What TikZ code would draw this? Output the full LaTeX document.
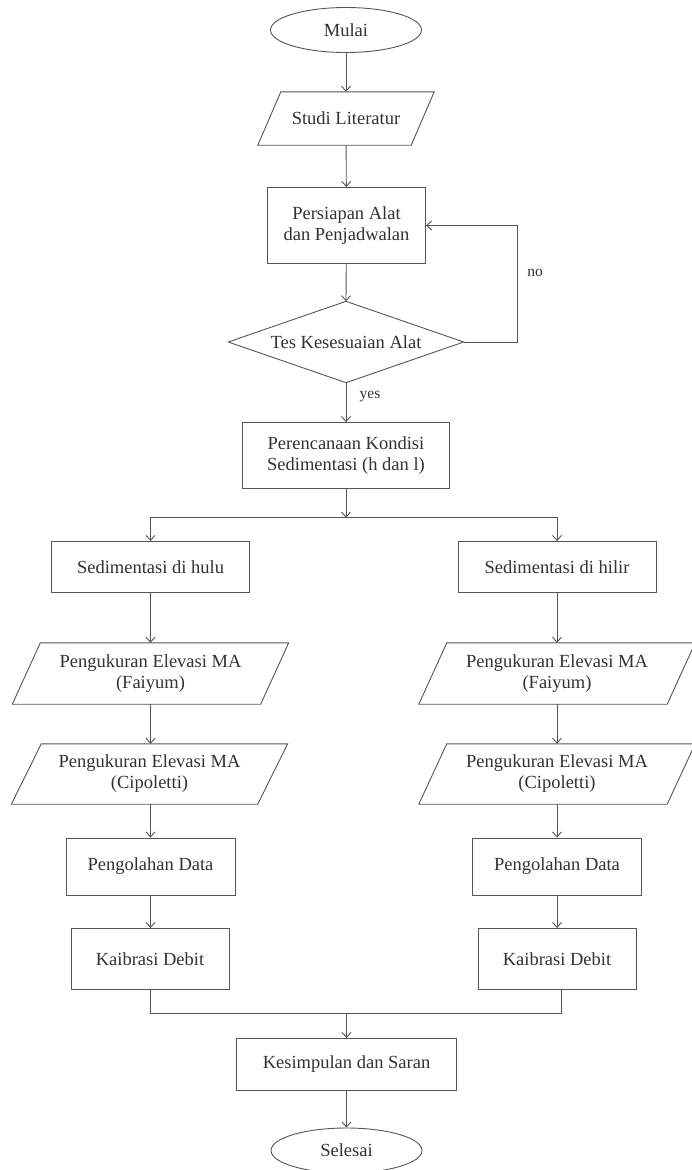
\documentclass[tikz,border=0pt]{standalone}
\usepackage{fontspec}
\setmainfont{Liberation Serif}
\usetikzlibrary{arrows.meta,shapes.geometric}
\definecolor{lncol}{RGB}{85,85,85}
\definecolor{txcol}{RGB}{50,50,50}
\begin{document}
\begin{tikzpicture}[x=1pt,y=-1pt,
  base/.style={font=\fontsize{18.5}{21}\selectfont, text=txcol, align=center, inner sep=0pt},
  box/.style={base, draw=lncol, line width=0.9pt, rectangle},
  ghost/.style={base, rectangle},
  oval/.style={base, draw=lncol, line width=0.9pt, ellipse, minimum width=151pt, minimum height=45pt},
  wire/.style={draw=lncol, line width=0.9pt},
  arr/.style={wire, -{Straight Barb[length=5pt,width=9pt]}},
  lbl/.style={font=\fontsize{15.5}{18}\selectfont, text=txcol, inner sep=0pt}]
\useasboundingbox (0,0) rectangle (691,1170);
% nodes
\node[oval] (mulai) at (346,30) {Mulai};
\node[ghost, minimum width=153pt, minimum height=53pt] (studi) at (346,118.5) {Studi Literatur};
\node[box, minimum width=158pt, minimum height=76pt] (prep) at (346.5,225.5) {Persiapan Alat\\dan Penjadwalan};
\node[ghost, minimum width=235pt, minimum height=81pt] (tes) at (346,342) {Tes Kesesuaian Alat};
\node[box, minimum width=207pt, minimum height=66pt] (plan) at (346,455.5) {Perencanaan Kondisi\\Sedimentasi (h dan l)};
\node[box, minimum width=198pt, minimum height=51pt] (hulu) at (150.5,567) {Sedimentasi di hulu};
\node[box, minimum width=198pt, minimum height=51pt] (hilir) at (557,567) {Sedimentasi di hilir};
\node[ghost, minimum width=248pt, minimum height=61pt] (fl) at (150.5,673.5) {Pengukuran Elevasi MA\\(Faiyum)};
\node[ghost, minimum width=248pt, minimum height=61pt] (fr) at (557,673.5) {Pengukuran Elevasi MA\\(Faiyum)};
\node[ghost, minimum width=246pt, minimum height=60pt] (cl) at (149.5,774) {Pengukuran Elevasi MA\\(Cipoletti)};
\node[ghost, minimum width=248pt, minimum height=60pt] (cr) at (557,774) {Pengukuran Elevasi MA\\(Cipoletti)};
\node[box, minimum width=169pt, minimum height=57pt] (pl) at (150.5,866.5) {Pengolahan Data};
\node[box, minimum width=169pt, minimum height=57pt] (pr) at (557,866.5) {Pengolahan Data};
\node[box, minimum width=158pt, minimum height=61pt] (kl) at (150,959) {Kaibrasi Debit};
\node[box, minimum width=158pt, minimum height=61pt] (kr) at (557,959) {Kaibrasi Debit};
\node[box, minimum width=220pt, minimum height=52pt] (kes) at (346.5,1064.5) {Kesimpulan dan Saran};
\node[oval] (selesai) at (346.5,1150.5) {Selesai};
% shapes drawn around text nodes
\draw[wire] (tes.north) -- (tes.east) -- (tes.south) -- (tes.west) -- cycle;
\foreach \n/\s in {studi/11.5, fl/14, fr/14, cl/15, cr/14}
  \draw[wire] ([xshift=\s pt]\n.north west) -- ([xshift=\s pt]\n.north east)
    -- ([xshift=-\s pt]\n.south east) -- ([xshift=-\s pt]\n.south west) -- cycle;
% helper coordinates
\coordinate (nox) at (517,0);
\coordinate (br) at (346,517.7);
\coordinate (mg) at (346.5,1013.3);
% connectors
\draw[arr] (mulai) -- (studi.north);
\draw[arr] (studi) -- (prep);
\draw[arr] (prep) -- (tes.north);
\draw[arr] (tes.east) -| (nox |- prep.east) -- (prep.east);
\node[lbl] (no) at (535,273) {no};
\draw[arr] (tes.south) -- (plan);
\node[lbl] (yes) at (370,397) {yes};
\draw[arr] (plan) -- (br);
\draw[arr] (br) -| (hulu.north);
\draw[arr] (br) -| (hilir.north);
\draw[arr] (hulu) -- (fl.north);
\draw[arr] (fl) -- (cl.north -| fl.north);
\draw[arr] (hilir) -- (fr.north);
\draw[arr] (fr) -- (cr.north);
\draw[arr] (cl.south -| pl.north) -- (pl);
\draw[arr] (cr) -- (pr);
\draw[arr] (pl) -- (kl.north -| pl.north);
\draw[arr] (pr) -- (kr);
\draw[wire] (kl.south -| pl.south) |- (mg);
\draw[wire] ([xshift=4pt]kr.south) |- (mg);
\draw[arr] (mg) -- (kes);
\draw[arr] (kes) -- (selesai);
\end{tikzpicture}
\end{document}
